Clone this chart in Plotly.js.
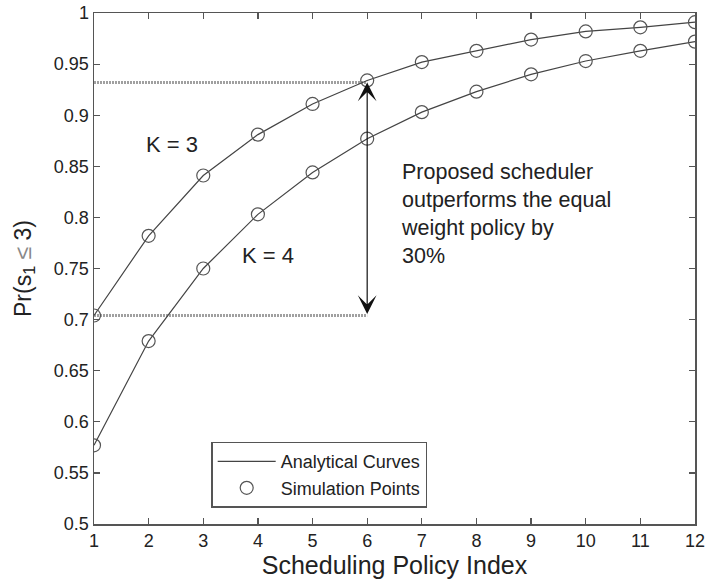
<!DOCTYPE html>
<html>
<head>
<meta charset="utf-8">
<script src="https://cdn.plot.ly/plotly-3.0.1.min.js"></script>
<style>
html,body{margin:0;padding:0;background:#fff;}
#chart{width:705px;height:584px;}
</style>
</head>
<body>
<div id="chart"></div>
<script>
// ---- data ----
const policyIndex = [1,2,3,4,5,6,7,8,9,10,11,12];
const probK3 = [0.704,0.782,0.841,0.881,0.911,0.934,0.952,0.963,0.974,0.982,0.986,0.991];
const probK4 = [0.577,0.679,0.750,0.803,0.844,0.877,0.903,0.923,0.940,0.953,0.963,0.972];
const refLevels = [0.932, 0.704];   // dotted reference levels
const refXRange = [1, 6];           // dotted lines span these indices
const arrowX = 6;
const yTickVals = [0.5,0.55,0.6,0.65,0.7,0.75,0.8,0.85,0.9,0.95,1];
const yTickText = ["0.5","0.55","0.6","0.65","0.7","0.75","0.8","0.85","0.9","0.95","1"];
const xTickVals = [1,2,3,4,5,6,7,8,9,10,11,12];
const labelK3 = "K = 3";
const labelK4 = "K = 4";
const noteText = "Proposed scheduler<br>outperforms the equal<br>weight policy by<br>30%";

const FONT = "Liberation Sans, Arial, sans-serif";
const lineColor = "#444";
const markColor = "#555";

const traces = [
  {x: policyIndex, y: probK3, mode: "lines", name: "Analytical Curves",
   line: {color: lineColor, width: 1.2}, legendgroup: "a"},
  {x: policyIndex, y: probK4, mode: "lines", showlegend: false,
   line: {color: lineColor, width: 1.2}, legendgroup: "a"},
  {x: policyIndex, y: probK3, mode: "markers", name: "Simulation Points",
   marker: {symbol: "circle-open", size: 13, color: markColor, line: {width: 1.2}}, legendgroup: "b"},
  {x: policyIndex, y: probK4, mode: "markers", showlegend: false,
   marker: {symbol: "circle-open", size: 13, color: markColor, line: {width: 1.2}}, legendgroup: "b"}
];

const shapes = refLevels.map(v => ({
  type: "line", xref: "x", yref: "y",
  x0: refXRange[0], x1: refXRange[1], y0: v, y1: v,
  line: {color: "#a0a0a0", width: 3, dash: "2px,1px"}, layer: "below"
}));

const annotations = [
  {x: 2.43, y: 0.871, xref: "x", yref: "y", text: labelK3, showarrow: false,
   font: {family: FONT, size: 22, color: "#222"}},
  {x: 4.18, y: 0.763, xref: "x", yref: "y", text: labelK4, showarrow: false,
   font: {family: FONT, size: 22, color: "#222"}},
  {x: 6.58, y: 0.858, xref: "x", yref: "y", text: noteText, showarrow: false,
   xanchor: "left", yanchor: "top", align: "left",
   font: {family: FONT, size: 21.5, color: "#222"}},
  {x: arrowX, y: refLevels[0], ax: arrowX, ay: refLevels[1], xref: "x", yref: "y",
   axref: "x", ayref: "y", text: "", showarrow: true, arrowside: "end+start",
   arrowhead: 3, arrowsize: 2.6, arrowwidth: 1.2, arrowcolor: "#111",
   standoff: 0, startstandoff: 0}
];

const axisCommon = {
  showline: true, mirror: "ticks", linecolor: "#555", linewidth: 1.5,
  ticks: "inside", ticklen: 6, tickcolor: "#555", tickwidth: 1.2,
  showgrid: false, zeroline: false, ticklabeloverflow: "allow",
  tickfont: {family: FONT, size: 18, color: "#222"}
};

const layout = {
  width: 705, height: 584,
  margin: {l: 94, r: 10, t: 13, b: 60},
  paper_bgcolor: "#fff", plot_bgcolor: "#fff",
  showlegend: true,
  xaxis: Object.assign({}, axisCommon, {
    range: [1, 12], tickvals: xTickVals,
    title: {text: "Scheduling Policy Index", font: {family: FONT, size: 25, color: "#222"}, standoff: 2}
  }),
  yaxis: Object.assign({}, axisCommon, {
    range: [0.5, 1], tickvals: yTickVals, ticktext: yTickText,
    title: {text: "Pr(s<sub>1</sub> <span style='color:#888'>≤</span> 3)", font: {family: FONT, size: 23, color: "#222"}, standoff: 16}
  }),
  legend: {
    x: 0.195, y: 0.161, xanchor: "left", yanchor: "top",
    bordercolor: "#555", borderwidth: 1.5, bgcolor: "#fff",
    font: {family: FONT, size: 18, color: "#222"},
    itemwidth: 58, tracegroupgap: 0
  },
  shapes: shapes,
  annotations: annotations
};

Plotly.newPlot("chart", traces, layout, {displayModeBar: false, staticPlot: true});
</script>
</body>
</html>
